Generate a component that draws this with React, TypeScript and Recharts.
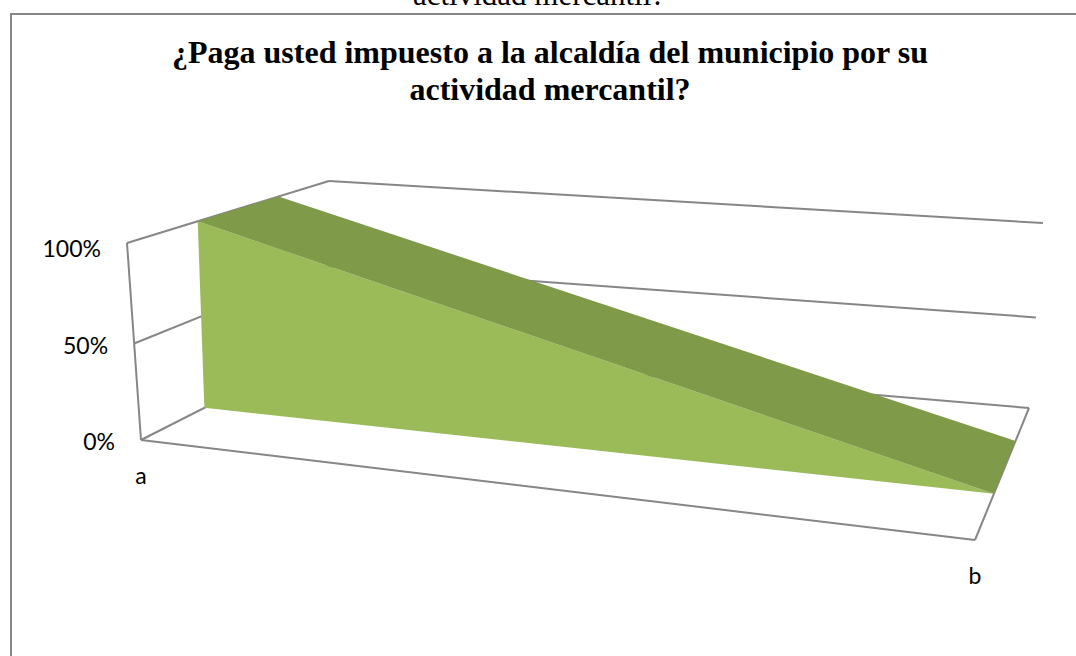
import { ComposedChart, Area, Line, XAxis, YAxis } from 'recharts'

const categories = ['a', 'b']
const values = [100, 0]
const valueTicks = [0, 50, 100]
const titleLines = ['¿Paga usted impuesto a la alcaldía del municipio por su', 'actividad mercantil?']
const cutOffCaption = 'actividad mercantil?'

const WIDTH = 1076
const HEIGHT = 656
const GRID = '#868686'
const FRONT = '#9BBB59'
const TOP = '#7F9A48'
const LABEL_FONT = 'Lato, sans-serif'
const TITLE_FONT = '"Liberation Serif", serif'

// where the 3D box of the chart sits on the page: [floor, top] per corner
const BOX = {
  frontLeft: [[141, 440], [127, 243]],
  frontRight: [[975, 540], [961, 345]],
  backLeft: [[322, 348], [329, 181]],
  backRight: [[1029, 408], [1043, 223]],
}
// the series sits between these two depths inside the box
const DEPTH_NEAR = 0.35
const DEPTH_FAR = 0.75

type Pt = { x: number; y: number }

// category position (0..1), depth (0..1), value (0..100) to page position
function project(pos: number, depth: number, value: number): Pt {
  // slight perspective: the lower half of the walls looks a bit shorter
  const v = Math.pow(value / 100, 1.03)
  const mix = (a: number, b: number, t: number) => a + (b - a) * t
  const corner = (c: number[][], i: number) => mix(c[0][i], c[1][i], v)
  const axis = (i: number) =>
    mix(
      mix(corner(BOX.frontLeft, i), corner(BOX.frontRight, i), pos),
      mix(corner(BOX.backLeft, i), corner(BOX.backRight, i), pos),
      depth,
    )
  return { x: axis(0), y: axis(1) }
}

// Area only fills between two curves over x, so turn a convex polygon into that
function toBand(poly: Pt[]) {
  const xs = poly.map((p) => p.x).sort((a, b) => a - b)
  return xs.map((x) => {
    const ys: number[] = []
    poly.forEach((p, i) => {
      const q = poly[(i + 1) % poly.length]
      const lo = Math.min(p.x, q.x)
      const hi = Math.max(p.x, q.x)
      if (x < lo || x > hi) return
      if (p.x === q.x) ys.push(p.y, q.y)
      else ys.push(p.y + ((q.y - p.y) * (x - p.x)) / (q.x - p.x))
    })
    return { x, band: [Math.min(...ys), Math.max(...ys)] }
  })
}

const positions = categories.map((_, i) => i / (categories.length - 1))

const frontFace = toBand([
  ...positions.map((pos, i) => project(pos, DEPTH_NEAR, values[i])),
  ...positions.map((pos) => project(pos, DEPTH_NEAR, 0)).reverse(),
])
const topFace = toBand([
  ...positions.map((pos, i) => project(pos, DEPTH_NEAR, values[i])),
  ...positions.map((pos, i) => project(pos, DEPTH_FAR, values[i])).reverse(),
])

const gridEdges = [
  // left wall
  [project(0, 0, 100), project(0, 0, 0)],
  ...valueTicks.map((t) => [project(0, 0, t), project(0, 1, t)]),
  // back wall
  ...valueTicks.map((t) => [project(0, 1, t), project(1, 1, t)]),
  // floor
  [project(0, 0, 0), project(1, 0, 0)],
  [project(1, 0, 0), project(1, 1, 0)],
]

// pct axis shares the plot height, 100% and 0% land on the front of the box
const PX_100 = 248
const PX_0 = 441
const pxPerPct = (PX_0 - PX_100) / 100
const pctDomain = [-(HEIGHT - PX_0) / pxPerPct, 100 + PX_100 / pxPerPct]

const CategoryTick = ({ index }: any) => {
  const p = project(positions[index], 0, 0)
  return (
    <text x={p.x} y={p.y + 35} textAnchor="middle" dominantBaseline="central" fontFamily={LABEL_FONT} fontSize={23} fill="#000">
      {categories[index]}
    </text>
  )
}

const ValueTick = ({ y, payload }: any) => (
  <text x={project(0, 0, payload.value).x - 26} y={y} textAnchor="end" dominantBaseline="central" fontFamily={LABEL_FONT} fontSize={23} fill="#000">
    {payload.value}%
  </text>
)

export default function App() {
  return (
    <div style={{ position: 'absolute', left: 0, top: 0, width: WIDTH, height: HEIGHT, overflow: 'hidden', background: '#fff' }}>
      <div style={{ position: 'absolute', left: 10, top: 13, right: -10, bottom: -10, borderLeft: `2px solid ${GRID}`, borderTop: `2px solid ${GRID}` }} />
      <ComposedChart width={WIDTH} height={HEIGHT} margin={{ top: 0, right: 0, bottom: -1, left: -1 }} style={{ position: 'absolute', left: 0, top: 0 }}>
        <XAxis
          type="number"
          dataKey="x"
          domain={[0, WIDTH]}
          ticks={positions.map((pos) => project(pos, 0, 0).x)}
          tick={CategoryTick}
          interval={0}
          height={1}
          axisLine={false}
          tickLine={false}
        />
        <YAxis yAxisId="page" type="number" domain={[0, HEIGHT]} reversed hide />
        <YAxis
          yAxisId="pct"
          type="number"
          domain={pctDomain}
          allowDataOverflow
          ticks={valueTicks}
          tick={ValueTick}
          interval={0}
          width={1}
          axisLine={false}
          tickLine={false}
        />
        {gridEdges.map((edge, i) => (
          <Line
            key={i}
            yAxisId="page"
            data={edge}
            dataKey="y"
            stroke={GRID}
            strokeWidth={2}
            dot={false}
            activeDot={false}
            isAnimationActive={false}
            zIndex={50}
          />
        ))}
        <Area yAxisId="page" data={frontFace} dataKey="band" type="linear" fill={FRONT} fillOpacity={1} stroke="none" dot={false} activeDot={false} isAnimationActive={false} zIndex={100} />
        <Area yAxisId="page" data={topFace} dataKey="band" type="linear" fill={TOP} fillOpacity={1} stroke="none" dot={false} activeDot={false} isAnimationActive={false} zIndex={101} />
        <text x={539} y={5} textAnchor="middle" fontFamily={TITLE_FONT} fontSize={31} fill="#000">
          {cutOffCaption}
        </text>
        {titleLines.map((line, i) => (
          <text key={line} x={550} y={63 + i * 37} textAnchor="middle" fontFamily={TITLE_FONT} fontWeight="bold" fontSize={32} fill="#000">
            {line}
          </text>
        ))}
      </ComposedChart>
    </div>
  )
}
